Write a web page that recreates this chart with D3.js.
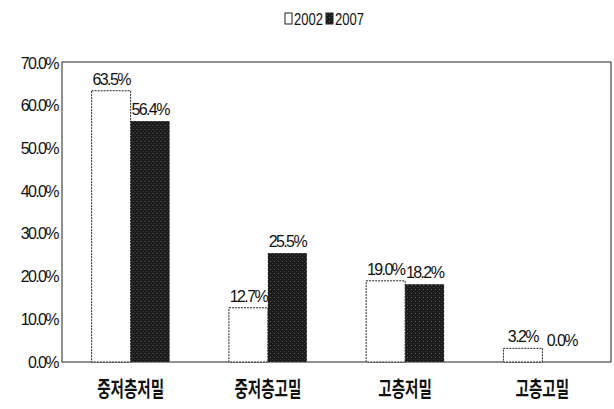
<!DOCTYPE html>
<html>
<head>
<meta charset="utf-8">
<script src="https://cdn.jsdelivr.net/npm/d3@7"></script>
<style>
  html, body { margin: 0; padding: 0; background: #fff; }
  svg { display: block; }
  .num { font-family: "Liberation Sans Narrow", "Liberation Sans", Arial, sans-serif; fill: #111; }
  .kor { font-family: "Noto Sans CJK KR", sans-serif; fill: #111; font-weight: 700; }
</style>
</head>
<body>
<svg id="chart" width="614" height="409"></svg>
<script>
// Housing type shares, 2002 vs 2007
const categories = ["중저층저밀", "중저층고밀", "고층저밀", "고층고밀"];
const years = ["2002", "2007"];
const values2002 = [0.635, 0.127, 0.190, 0.032];
const values2007 = [0.564, 0.255, 0.182, 0.000];
const yTicks = [0, 0.1, 0.2, 0.3, 0.4, 0.5, 0.6, 0.7];

const series = { "2002": values2002, "2007": values2007 };
const rows = categories.map((c, i) => ({
  category: c,
  bars: years.map(yr => ({ year: yr, value: series[yr][i] }))
}));

const svg = d3.select("#chart");
const plotLeft = 62, plotRight = 611, plotTop = 62, plotBottom = 362;

const x0 = d3.scaleBand().domain(categories).range([plotLeft, plotRight])
  .paddingInner(0.432).paddingOuter(0.216);
const x1 = d3.scaleBand().domain(years).range([0, x0.bandwidth()]);
const y = d3.scaleLinear().domain([0, 0.7]).range([plotBottom, 63]);

// halftone texture for the dark bars
const defs = svg.append("defs");
const pat = defs.append("pattern").attr("id", "dark")
  .attr("patternUnits", "userSpaceOnUse").attr("width", 4).attr("height", 4);
pat.append("rect").attr("width", 4).attr("height", 4).attr("fill", "#1a1a1a");
pat.append("rect").attr("x", 1).attr("y", 1).attr("width", 1).attr("height", 1).attr("fill", "#6a6a6a");
pat.append("rect").attr("x", 3).attr("y", 3).attr("width", 1).attr("height", 1).attr("fill", "#444");

// plot frame
svg.append("rect")
  .attr("x", plotLeft).attr("y", plotTop)
  .attr("width", plotRight - plotLeft).attr("height", plotBottom - plotTop)
  .attr("fill", "none").attr("stroke", "#222").attr("stroke-width", 1);

// y axis labels
const yAxis = d3.axisLeft(y).tickValues(yTicks).tickFormat(d3.format(".1%")).tickSize(0).tickPadding(4);
const yg = svg.append("g").attr("transform", `translate(${plotLeft},0)`).call(yAxis);
yg.select(".domain").remove();
yg.selectAll("text").attr("class", "num").style("font-size", "16px")
  .style("letter-spacing", "-1.6px").attr("fill", "#111");

// bars
const groups = svg.append("g").selectAll("g").data(rows).join("g")
  .attr("transform", d => `translate(${x0(d.category)},0)`);

groups.selectAll("rect").data(d => d.bars).join("rect")
  .attr("x", d => x1(d.year))
  .attr("y", d => y(d.value))
  .attr("width", x1.bandwidth())
  .attr("height", d => y(0) - y(d.value))
  .attr("fill", d => d.year === "2007" ? "url(#dark)" : "#fff")
  .attr("stroke", d => d.year === "2007" ? "none" : "#222")
  .attr("stroke-width", 1)
  .attr("stroke-dasharray", d => d.year === "2002" ? "2,1" : null);

// value labels
groups.selectAll("text").data(d => d.bars).join("text")
  .attr("class", "num")
  .attr("x", d => x1(d.year) + x1.bandwidth() / 2)
  .attr("y", d => y(d.value) - (d.value === 0 ? 16 : 6))
  .attr("text-anchor", "middle")
  .style("font-size", "16px")
  .style("letter-spacing", "-1.6px")
  .text(d => d3.format(".1%")(d.value));

// category labels
svg.append("g").selectAll("text").data(categories).join("text")
  .attr("class", "kor")
  .attr("x", d => x0(d) + x0.bandwidth() / 2)
  .attr("y", 396)
  .attr("text-anchor", "middle")
  .style("font-size", "21px")
  .attr("textLength", d => d.length * 13.4)
  .attr("lengthAdjust", "spacingAndGlyphs")
  .text(d => d);

// legend
const legend = svg.append("g");
const legendX = [285, 326];
years.forEach((yr, i) => {
  legend.append("rect")
    .attr("x", legendX[i]).attr("y", 13)
    .attr("width", 7).attr("height", 11)
    .attr("fill", yr === "2007" ? "url(#dark)" : "#fff")
    .attr("stroke", "#222").attr("stroke-width", 1);
  legend.append("text")
    .attr("class", "num")
    .attr("x", legendX[i] + 9).attr("y", 25)
    .style("font-size", "17px")
    .attr("textLength", 29)
    .attr("lengthAdjust", "spacingAndGlyphs")
    .text(yr);
});
</script>
</body>
</html>
